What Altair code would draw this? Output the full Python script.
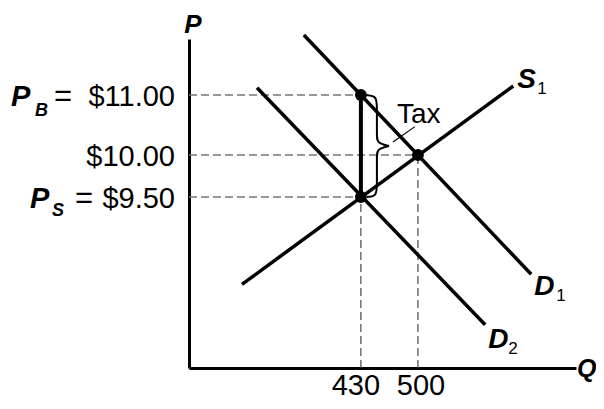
import altair as alt
import pandas as pd
import numpy as np

# ---------------- values ----------------
price_levels = [11.00, 10.00, 9.50]              # P_B, equilibrium P, P_S
price_labels = ["$11.00", "$10.00", "$9.50"]
quantity_levels = [430, 500]                     # Q with tax, Q without tax
quantity_labels = ["430", "500"]
quantity_meets_price = [9.50, 10.00]             # where each Q guide stops

curve_names = ["S1", "S1", "D1", "D1", "D2", "D2"]
curve_q = [284, 617, 360, 639, 302.5, 582.5]
curve_p = [8.46, 11.15, 12.0, 8.58, 11.12, 7.98]

point_q = [430, 500, 430]
point_p = [11.00, 10.00, 9.50]

tax_q = 430
tax_p_low, tax_p_high = 9.50, 11.00

# ---------------- scales (schematic, not to scale) ----------------
W, H = 387, 329
Q_DOMAIN = [219, 694]
P_DOMAIN = [7.464, 9.5, 10.0, 11.0, 11.933]
P_RANGE = [H, 158, 116, 56, 0]
FONT = "Liberation Sans"

Qmin, Qmax = Q_DOMAIN
Pmin, Pmax = P_DOMAIN[0], P_DOMAIN[-1]

AX = alt.Axis(title=None, labels=False, ticks=False, grid=False, domain=True,
              domainColor="black", domainWidth=3)
xs = alt.Scale(domain=Q_DOMAIN, nice=False, zero=False)
ys = alt.Scale(domain=P_DOMAIN, range=P_RANGE, nice=False, zero=False)


def X(f="q"):
    return alt.X(f"{f}:Q", scale=xs, axis=AX)


def Y(f="p"):
    return alt.Y(f"{f}:Q", scale=ys, axis=AX)


# helpers to place decorations a few pixels from data points
q_per_px = (Qmax - Qmin) / W


def py_of(p):
    return float(np.interp(p, P_DOMAIN, P_RANGE))


def p_of(py):
    return float(np.interp(py, P_RANGE[::-1], P_DOMAIN[::-1]))


layers = []

# dashed guides
hdf = pd.DataFrame({"q": [Qmin] * 3, "q2": [430, 500, 430], "p": price_levels})
layers.append(alt.Chart(hdf).mark_rule(color="#777777", strokeWidth=1.7, strokeDash=[8, 4])
              .encode(x=X(), x2="q2:Q", y=Y()))
vdf = pd.DataFrame({"q": quantity_levels, "p": [Pmin] * 2, "p2": quantity_meets_price})
layers.append(alt.Chart(vdf).mark_rule(color="#444444", strokeWidth=1.2, strokeDash=[8, 4])
              .encode(x=X(), y=Y(), y2="p2:Q"))

# supply and demand curves
cdf = pd.DataFrame({"name": curve_names, "q": curve_q, "p": curve_p})
layers.append(alt.Chart(cdf).mark_line(color="black", strokeWidth=3.5)
              .encode(x=X(), y=Y(), detail="name:N"))

# tax wedge
tdf = pd.DataFrame({"q": [tax_q], "p": [tax_p_low], "p2": [tax_p_high]})
layers.append(alt.Chart(tdf).mark_rule(color="black", strokeWidth=4)
              .encode(x=X(), y=Y(), y2="p2:Q"))

# brace
ytop, ybot = py_of(tax_p_high), py_of(tax_p_low)
brace_shape = [(5, 0.0), (16, 0.01), (16, 0.12), (16, 0.40), (16, 0.47), (28, 0.5), (28, 0.5),
               (28, 0.5), (16, 0.53), (16, 0.60), (16, 0.88), (16, 0.99), (6, 1.0)]
bdf = pd.DataFrame({
    "i": list(range(len(brace_shape))),
    "q": [tax_q + dx * q_per_px for dx, t in brace_shape],
    "p": [p_of(ytop + t * (ybot - ytop)) for dx, t in brace_shape],
})
layers.append(alt.Chart(bdf).mark_line(color="black", strokeWidth=2, interpolate="basis")
              .encode(x=X(), y=Y(), order="i:Q"))

leader_shape = [(32, 0.46), (54, 0.31)]
ldf = pd.DataFrame({
    "i": [0, 1],
    "q": [tax_q + dx * q_per_px for dx, t in leader_shape],
    "p": [p_of(ytop + t * (ybot - ytop)) for dx, t in leader_shape],
})
layers.append(alt.Chart(ldf).mark_line(color="black", strokeWidth=1.2)
              .encode(x=X(), y=Y(), order="i:Q"))

# points
pdf = pd.DataFrame({"q": point_q, "p": point_p})
layers.append(alt.Chart(pdf).mark_point(filled=True, color="black", size=140, opacity=1)
              .encode(x=X(), y=Y()))


# text
def label(q, p, text, dx, dy, align="left", size=29, weight="normal", style="normal"):
    d = pd.DataFrame({"q": [q], "p": [p], "t": [text]})
    return alt.Chart(d).mark_text(dx=dx, dy=dy, align=align, baseline="alphabetic",
                                  fontSize=size, fontWeight=weight, fontStyle=style,
                                  font=FONT, color="black").encode(x=X(), y=Y(), text="t:N")


for p, lab in zip(price_levels, price_labels):
    layers.append(label(Qmin, p, lab, -14, 11, "right"))
layers.append(label(Qmin, price_levels[0], "=", -126, 11, "center", 31))
layers.append(label(Qmin, price_levels[2], "=", -105, 11, "center", 31))
layers.append(label(Qmin, price_levels[0], "P", -178, 11, "left", 29, "bold", "italic"))
layers.append(label(Qmin, price_levels[0], "B", -154, 21, "left", 18, "bold", "italic"))
layers.append(label(Qmin, price_levels[2], "P", -159, 11, "left", 29, "bold", "italic"))
layers.append(label(Qmin, price_levels[2], "S", -137, 19, "left", 18, "bold", "italic"))

for q, lab, dx in zip(quantity_levels, quantity_labels, [-5, 3]):
    layers.append(label(q, Pmin, lab, dx, 27, "center"))

layers.append(label(Qmin, Pmax, "P", 4, -6, "center", 26, "bold", "italic"))
layers.append(label(Qmax, Pmin, "Q", 1, 9, "left", 25, "bold", "italic"))

layers.append(label(curve_q[1], curve_p[1], "S", 4, 2, "left", 28, "bold", "italic"))
layers.append(label(curve_q[1], curve_p[1], "1", 24, 8, "left", 17))
layers.append(label(curve_q[3], curve_p[3], "D", 3, 21, "left", 28, "bold", "italic"))
layers.append(label(curve_q[3], curve_p[3], "1", 25, 27, "left", 17))
layers.append(label(curve_q[5], curve_p[5], "D", 3, 23, "left", 28, "bold", "italic"))
layers.append(label(curve_q[5], curve_p[5], "2", 23, 29, "left", 17))

layers.append(label(tax_q, tax_p_high, "Tax", 36, 28, "left", 28))

chart = alt.layer(*layers).properties(
    width=W, height=H,
    padding={"left": 181, "top": 31, "right": 20, "bottom": 33},
    autosize=alt.AutoSizeParams(type="none"),
).configure_view(stroke=None)

chart.save("out.html", embed_options={"renderer": "svg", "actions": False})
